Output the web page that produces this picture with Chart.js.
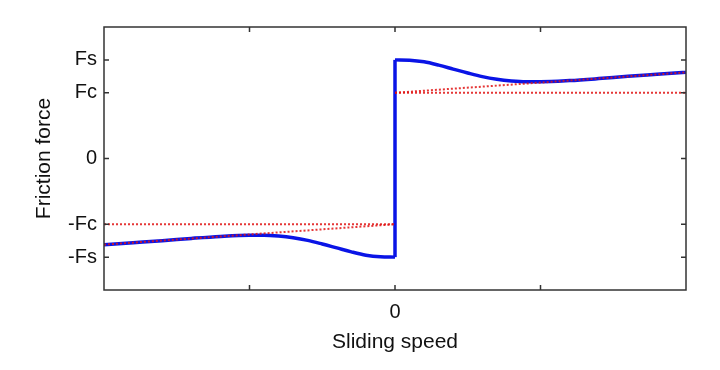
<!DOCTYPE html>
<html>
<head>
<meta charset="utf-8">
<script src="https://cdn.jsdelivr.net/npm/chart.js@4/dist/chart.umd.min.js"></script>
<style>
  html, body { margin: 0; padding: 0; background: #fff; }
  #wrap { width: 720px; height: 370px; }
</style>
</head>
<body>
<div id="wrap"><canvas id="c"></canvas></div>
<script>
  // sliding speed values and friction
  const speedRight = [0, 0.1, 0.2, 0.3, 0.4, 0.5, 0.6, 0.7, 0.8, 0.9, 1.0, 1.2, 1.4, 1.6, 1.8, 2.0];
  const forceRight = [1.50, 1.495, 1.47, 1.42, 1.36, 1.30, 1.245, 1.205, 1.18, 1.168, 1.168, 1.185, 1.215, 1.25, 1.28, 1.31];
  const speedLeft = [-2.0, -1.8, -1.6, -1.4, -1.2, -1.0, -0.9, -0.8, -0.7, -0.6, -0.5, -0.4, -0.3, -0.2, -0.1, 0];
  const forceLeft = [-1.31, -1.28, -1.25, -1.215, -1.185, -1.168, -1.168, -1.18, -1.205, -1.245, -1.30, -1.36, -1.42, -1.47, -1.495, -1.50];
  const jump = [[0, -1.5], [0, 1.5]];

  // coulomb and viscous reference lines
  const coulombRight = [[0, 1], [2, 1]];
  const coulombLeft = [[-2, -1], [0, -1]];
  const viscousRight = [[0, 1], [2, 1.31]];
  const viscousLeft = [[-2, -1.31], [0, -1]];

  const xTicks = [-1, 0, 1];
  const xTickLabels = { '0': '0' };
  const yTicks = [-1.5, -1, 0, 1, 1.5];
  const yTickLabels = { '-1.5': '-Fs', '-1': '-Fc', '0': '0', '1': 'Fc', '1.5': 'Fs' };

  const toXY = (xs, ys) => xs.map((x, i) => ({ x: x, y: ys[i] }));
  const pairs = arr => arr.map(p => ({ x: p[0], y: p[1] }));

  const blue = '#0a14e6';
  const red = 'rgba(225,20,20,0.85)';

  const blueLine = data => ({
    data: data, borderColor: blue, borderWidth: 3.5, showLine: true,
    pointRadius: 0, cubicInterpolationMode: 'monotone', order: 2,
  });
  const redLine = data => ({
    data: data, borderColor: red, borderWidth: 2, borderDash: [2, 2], showLine: true,
    pointRadius: 0, order: 1,
  });

  const frame = {
    id: 'frame',
    afterDraw(chart) {
      const { ctx, chartArea: a, scales } = chart;
      ctx.save();
      ctx.strokeStyle = '#333';
      ctx.lineWidth = 1.5;
      ctx.strokeRect(a.left, a.top, a.right - a.left, a.bottom - a.top);
      const len = 5;
      ctx.beginPath();
      xTicks.forEach(v => {
        const px = scales.x.getPixelForValue(v);
        ctx.moveTo(px, a.bottom); ctx.lineTo(px, a.bottom - len);
        ctx.moveTo(px, a.top); ctx.lineTo(px, a.top + len);
      });
      yTicks.forEach(v => {
        const py = scales.y.getPixelForValue(v);
        ctx.moveTo(a.left, py); ctx.lineTo(a.left + len, py);
        ctx.moveTo(a.right, py); ctx.lineTo(a.right - len, py);
      });
      ctx.stroke();
      ctx.restore();
    }
  };

  Chart.defaults.font.family = '"Liberation Sans", Arial, sans-serif';
  Chart.defaults.color = '#111';

  new Chart(document.getElementById('c'), {
    type: 'scatter',
    data: {
      datasets: [
        blueLine(toXY(speedLeft, forceLeft)),
        blueLine(pairs(jump)),
        blueLine(toXY(speedRight, forceRight)),
        redLine(pairs(coulombLeft)),
        redLine(pairs(coulombRight)),
        redLine(pairs(viscousLeft)),
        redLine(pairs(viscousRight)),
      ]
    },
    options: {
      responsive: true,
      maintainAspectRatio: false,
      animation: false,
      layout: { padding: { top: 27, right: 34, left: 0, bottom: 0 } },
      plugins: { legend: { display: false }, tooltip: { enabled: false } },
      scales: {
        x: {
          type: 'linear', min: -2, max: 2,
          afterBuildTicks: s => { s.ticks = xTicks.map(v => ({ value: v })); },
          afterFit: s => { s.height = 80; },
          grid: { display: false, drawTicks: false },
          border: { display: false },
          ticks: { font: { size: 20 }, padding: 10, maxRotation: 0, callback: v => xTickLabels[String(v)] || '' },
          title: { display: true, text: 'Sliding speed', font: { size: 21 }, padding: { top: 0, bottom: 15 } },
        },
        y: {
          type: 'linear', min: -2, max: 2,
          afterBuildTicks: s => { s.ticks = yTicks.map(v => ({ value: v })); },
          afterFit: s => { s.width = 104; },
          grid: { display: false, drawTicks: false },
          border: { display: false },
          ticks: { font: { size: 20 }, padding: 7, callback: v => yTickLabels[String(v)] || '' },
          title: { display: true, text: 'Friction force', font: { size: 21 }, padding: { top: 32, bottom: 0 } },
        }
      }
    },
    plugins: [frame]
  });
</script>
</body>
</html>
